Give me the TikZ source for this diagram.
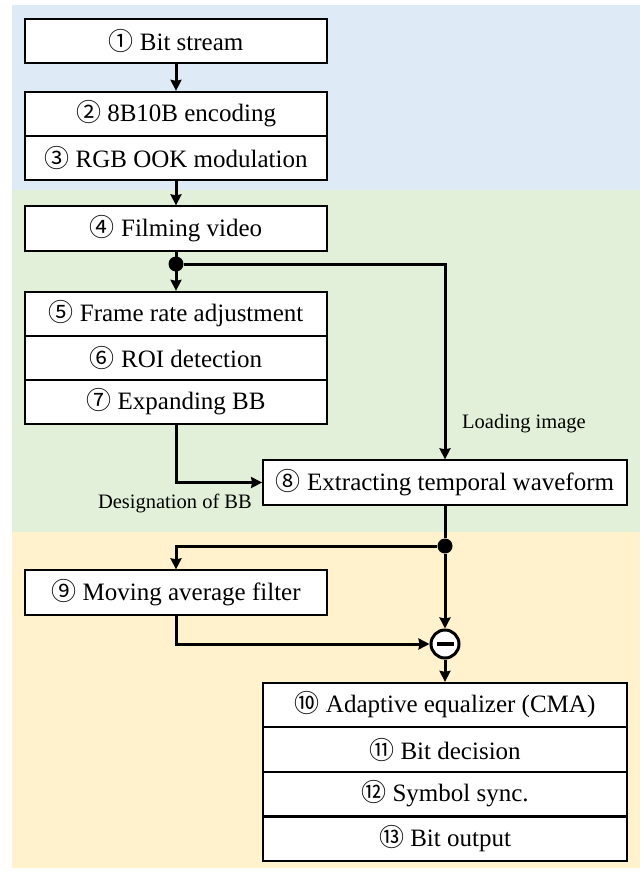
\documentclass[tikz,border=0pt]{standalone}
\usepackage{fontspec}
\usetikzlibrary{arrows.meta}
\setmainfont{Liberation Serif}
\newfontfamily\cjk{Noto Sans CJK JP}
\definecolor{bluzone}{HTML}{DEEBF7}
\definecolor{grnzone}{HTML}{E2F0D9}
\definecolor{orgzone}{HTML}{FFF2CC}
\newcommand{\cnum}[1]{{\cjk #1}}

\begin{document}
\begin{tikzpicture}[x=1pt, y=-1pt,
	stage/.style={draw, fill=white, line width=1.8pt, minimum width=302pt, minimum height=44.5pt, inner sep=0pt, font=\fontsize{25}{29}\selectfont},
	widestage/.style={stage, minimum width=364pt},
	flow/.style={-{Stealth[length=11pt, width=11pt, inset=1pt]}, line width=3pt},
	junction/.style={circle, fill=black, inner sep=0pt, minimum size=15pt},
	note/.style={inner sep=0pt, font=\fontsize{20.5}{24}\selectfont}]

	\useasboundingbox (0, 0) rectangle (644, 873);

	% three zones: transmitter, capture, receiver
	\fill[bluzone] (12, 5) rectangle (640, 190);
	\fill[grnzone] (12, 190) rectangle (640, 532);
	\fill[orgzone] (12, 532) rectangle (640, 868);

	\node[stage] (bits) at (176, 41) {\cnum{①} Bit stream};
	\node[stage] (enc) at (176, 114) {\cnum{②} 8B10B encoding};
	\node[stage] (ook) at (176, 158) {\cnum{③} RGB OOK modulation};
	\node[stage] (film) at (176, 228.5) {\cnum{④} Filming video};
	\node[stage] (frame) at (176, 314) {\cnum{⑤} Frame rate adjustment};
	\node[stage] (roi) at (176, 358) {\cnum{⑥} ROI detection};
	\node[stage] (expand) at (176, 402) {\cnum{⑦} Expanding BB};
	\node[widestage] (ext) at (445, 482.5) {\cnum{⑧} Extracting temporal waveform};
	\node[stage] (mavg) at (176, 592.5) {\cnum{⑨} Moving average filter};
	\node[widestage] (equal) at (445, 705) {\cnum{⑩} Adaptive equalizer (CMA)};
	\node[widestage] (decide) at (445, 749.5) {\cnum{⑪} Bit decision};
	\node[widestage] (sync) at (445, 794) {\cnum{⑫} Symbol sync.};
	\node[widestage] (out) at (445, 839) {\cnum{⑬} Bit output};

	\node[junction] (split1) at (176, 264) {};
	\node[junction] (split2) at (445, 546) {};
	\node[circle, draw, fill=white, line width=3pt, minimum size=28pt, inner sep=0pt] (sub) at (445, 644) {};
	\draw[line width=4.5pt] ([xshift=-8.5pt]sub.center) -- ([xshift=8.5pt]sub.center);

	\node[note, anchor=west] (loadlbl) at (462, 424) {Loading image};
	\node[note, anchor=east] (bblbl) at (252, 503) {Designation of BB};

	\draw[flow] (bits) -- (enc);
	\draw[flow] (ook) -- (film);
	\draw[flow] (film) -- (frame);
	\draw[flow] (split1) -| (ext);
	\draw[flow] (expand) |- (ext);
	\draw[line width=3pt] (ext) -- (split2);
	\draw[flow] (split2) -- (sub);
	\draw[flow] (split2) -| (mavg);
	\draw[flow] (mavg) |- (sub);
	\draw[flow] (sub) -- (equal);
\end{tikzpicture}
\end{document}
